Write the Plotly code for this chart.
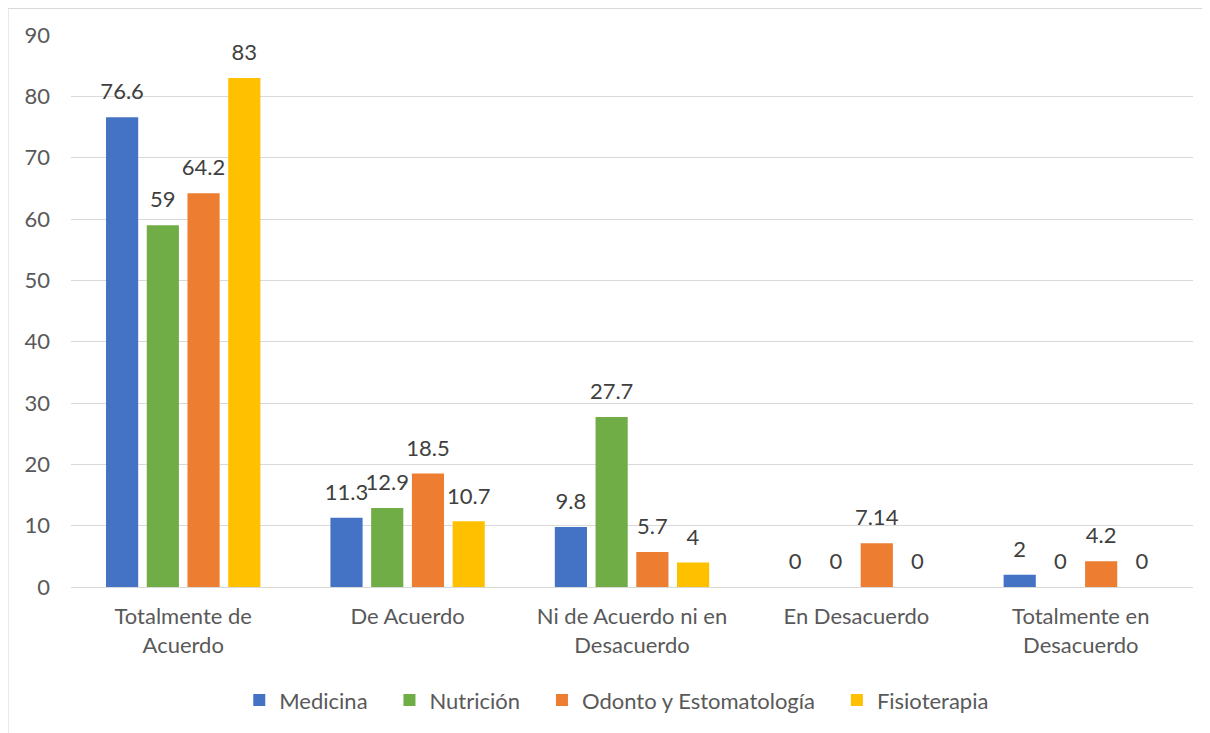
import plotly.graph_objects as go

categories = [
    "Totalmente de<br>Acuerdo",
    "De Acuerdo",
    "Ni de Acuerdo ni en<br>Desacuerdo",
    "En Desacuerdo",
    "Totalmente en<br>Desacuerdo",
]
series_names = ["Medicina", "Nutrición", "Odonto y Estomatología", "Fisioterapia"]
medicina = [76.6, 11.3, 9.8, 0, 2]
nutricion = [59, 12.9, 27.7, 0, 0]
odonto = [64.2, 18.5, 5.7, 7.14, 4.2]
fisioterapia = [83, 10.7, 4, 0, 0]
colors = ["#4472C4", "#70AD47", "#ED7D31", "#FFC000"]

FONT = "Lato"
SIZE = 22
LABEL_LIFT = 1.6  # extra space between bar top and its label, in axis units
SP = "\u00a0" * 3

fig = go.Figure()
for i, (name, vals, col) in enumerate(zip(series_names, [medicina, nutricion, odonto, fisioterapia], colors)):
    fig.add_trace(go.Bar(
        x=categories, y=vals, name=name + SP, marker_color=col,
        marker_line_width=0, offsetgroup=str(i),
    ))
    # transparent bar on top of each bar, only used to place the value label
    fig.add_trace(go.Bar(
        x=categories, y=[LABEL_LIFT] * len(vals), base=vals,
        marker_color="rgba(0,0,0,0)", marker_line_width=0,
        offsetgroup=str(i), showlegend=False,
        text=[f"{v:g}" for v in vals], textposition="outside", constraintext="none",
        textfont=dict(size=SIZE, color="#404040", family=FONT),
        cliponaxis=False, hoverinfo="skip",
    ))

# the page body adds an 8px offset, margins are set to compensate
fig.update_layout(
    width=1210, height=733,
    barmode="group", bargap=0.274, bargroupgap=0.21,
    plot_bgcolor="white", paper_bgcolor="white",
    margin=dict(l=63, r=25, t=27, b=154, autoexpand=False),
    font=dict(family=FONT, size=SIZE, color="#595959"),
    showlegend=True,
    legend=dict(orientation="h", x=0.494, xanchor="center", y=-0.205, yanchor="middle",
                font=dict(size=SIZE, color="#595959"), itemwidth=30),
    shapes=[dict(type="rect", xref="paper", yref="paper",
                 x0=-0.0561, x1=1.03, y0=-0.3, y1=1.048,
                 line=dict(color="#d9d9d9", width=1), layer="below")],
)
fig.update_xaxes(showgrid=False, showline=True, linecolor="#d9d9d9", ticks="",
                 ticklabelstandoff=10, tickfont=dict(size=SIZE, color="#595959"))
fig.update_yaxes(range=[0, 90], dtick=10, showgrid=True, gridcolor="#d9d9d9",
                 zeroline=False, showline=False, ticks="", ticklabelstandoff=20,
                 tickfont=dict(size=SIZE, color="#595959"))

fig.write_html("out.html")
